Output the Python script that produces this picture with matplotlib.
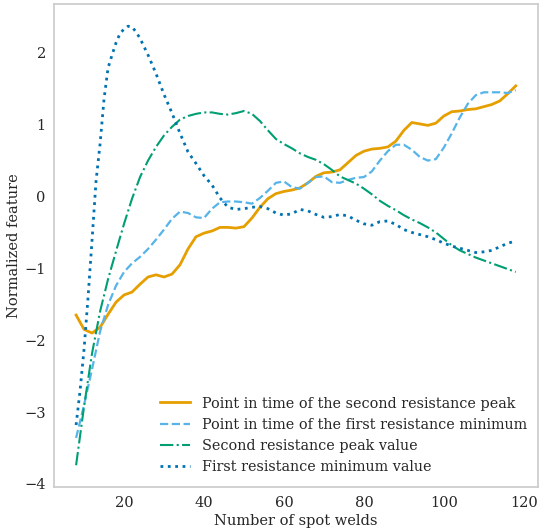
import matplotlib
matplotlib.use("Agg")
import matplotlib.pyplot as plt

# Number of spot welds (shared grid) and per-feature normalized values
welds = list(range(8, 119, 2))

peak2_time = [-1.65, -1.85, -1.90, -1.82, -1.64, -1.47, -1.37, -1.33, -1.22, -1.12,
              -1.09, -1.12, -1.08, -0.95, -0.73, -0.56, -0.51, -0.48, -0.43, -0.43,
              -0.44, -0.42, -0.30, -0.15, -0.03, 0.04, 0.07, 0.09, 0.12, 0.19,
              0.28, 0.33, 0.34, 0.37, 0.47, 0.57, 0.63, 0.66, 0.67, 0.69,
              0.77, 0.92, 1.03, 1.01, 0.99, 1.02, 1.12, 1.18, 1.19, 1.21,
              1.22, 1.25, 1.28, 1.33, 1.43, 1.54]

min1_time = [-3.36, -2.90, -2.40, -1.88, -1.51, -1.24, -1.05, -0.93, -0.84, -0.73,
             -0.60, -0.46, -0.31, -0.21, -0.23, -0.29, -0.30, -0.17, -0.08, -0.07,
             -0.07, -0.08, -0.10, -0.02, 0.08, 0.19, 0.21, 0.13, 0.11, 0.19,
             0.27, 0.28, 0.20, 0.19, 0.23, 0.26, 0.27, 0.35, 0.50, 0.63,
             0.72, 0.72, 0.65, 0.55, 0.50, 0.52, 0.68, 0.88, 1.10, 1.29,
             1.41, 1.45, 1.45, 1.45, 1.44, 1.48]

peak2_value = [-3.74, -2.92, -2.18, -1.60, -1.15, -0.76, -0.38, -0.03, 0.27, 0.50,
               0.69, 0.85, 0.97, 1.07, 1.12, 1.15, 1.17, 1.17, 1.15, 1.14,
               1.16, 1.19, 1.15, 1.05, 0.92, 0.80, 0.73, 0.67, 0.60, 0.55,
               0.51, 0.45, 0.37, 0.28, 0.23, 0.18, 0.11, 0.03, -0.06, -0.13,
               -0.19, -0.26, -0.32, -0.37, -0.43, -0.50, -0.59, -0.68, -0.75, -0.80,
               -0.85, -0.89, -0.93, -0.97, -1.01, -1.05]

# The first-minimum value rises steeply early on, so it is sampled more finely there
welds_min1 = list(range(8, 24)) + list(range(24, 119, 2))
min1_value = [-3.18, -2.70, -2.12, -1.40, -0.60, 0.22, 0.73, 1.36, 1.79, 1.97,
              2.14, 2.27, 2.33, 2.37, 2.36, 2.29,
              2.20, 1.97, 1.71, 1.42, 1.16, 0.88, 0.62, 0.46, 0.29, 0.16,
              -0.02, -0.15, -0.18, -0.17, -0.15, -0.14, -0.17, -0.23, -0.26, -0.24,
              -0.18, -0.20, -0.25, -0.29, -0.28, -0.25, -0.27, -0.33, -0.38, -0.40,
              -0.35, -0.34, -0.39, -0.46, -0.50, -0.53, -0.56, -0.60, -0.65, -0.69,
              -0.72, -0.75, -0.78, -0.77, -0.75, -0.70, -0.65, -0.62]

labels = ["Point in time of the second resistance peak",
          "Point in time of the first resistance minimum",
          "Second resistance peak value",
          "First resistance minimum value"]

plt.rcParams.update({
    "font.family": "DejaVu Serif",
    "font.size": 10.5,
    "text.color": "#262626",
    "axes.labelcolor": "#262626",
    "xtick.color": "#262626",
    "ytick.color": "#262626",
    "axes.edgecolor": "#cccccc",
    "axes.linewidth": 1.25,
})

fig = plt.figure(figsize=(5.41, 5.29), dpi=100)
ax = fig.add_axes([0.100, 0.079, 0.894, 0.913])

ax.plot(welds, peak2_time, color="#E69F00", lw=2.0, ls="-", label=labels[0])
ax.plot(welds, min1_time, color="#56B4E9", lw=1.6, ls="--", label=labels[1])
ax.plot(welds, peak2_value, color="#009E73", lw=1.5, ls="-.", label=labels[2])
ax.plot(welds_min1, min1_value, color="#0072B2", lw=2.0, ls=":", label=labels[3])

ax.tick_params(length=0, labelsize=10.5, pad=6)
ax.set_xticks([20, 40, 60, 80, 100, 120])
ax.set_yticks([-4, -3, -2, -1, 0, 1, 2])
ax.set_xlabel("Number of spot welds", fontsize=10.5, labelpad=3)
ax.set_ylabel("Normalized feature", fontsize=10.5, labelpad=2)

ax.legend(loc="lower right", bbox_to_anchor=(1.010, -0.006), frameon=False,
          fontsize=10.4, handlelength=2.1, borderaxespad=0.7, labelspacing=0.5)

fig.savefig("out.png", dpi=100)
